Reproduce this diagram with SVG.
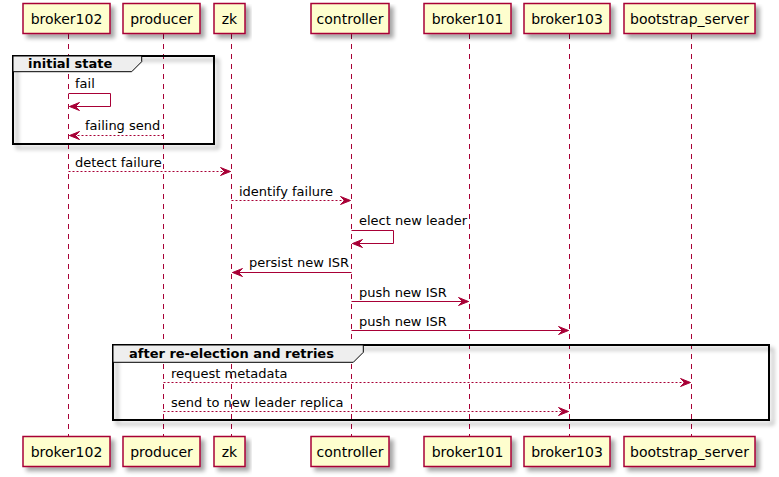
<svg xmlns="http://www.w3.org/2000/svg" width="779" height="477" viewBox="0 0 779 477">
<defs>
<filter id="sh" x="-10%" y="-10%" width="130%" height="140%">
<feGaussianBlur in="SourceAlpha" stdDeviation="2"/>
<feOffset dx="4" dy="4" result="b"/>
<feComponentTransfer><feFuncA type="linear" slope="0.35"/></feComponentTransfer>
<feMerge><feMergeNode/><feMergeNode in="SourceGraphic"/></feMerge>
</filter>
</defs>
<style>
text{font-family:"DejaVu Sans",sans-serif;font-size:13px;fill:#000}
.p text{font-size:14px}
.p rect{fill:#FEFECE;stroke:#A80036;stroke-width:1.5}
.life{stroke:#A80036;stroke-width:1;stroke-dasharray:5,5;fill:none}
.msg{stroke:#A80036;stroke-width:1;fill:none}
.dash{stroke-dasharray:2,2}
.ah{fill:#A80036;stroke:#A80036;stroke-width:1}
.tab{fill:#EEEEEE;stroke:#000;stroke-width:1}
.bold{font-weight:bold}
</style>
<g id="lifelines">
<line class="life" x1="68.5" y1="34" x2="68.5" y2="436"/>
<line class="life" x1="163.5" y1="34" x2="163.5" y2="436"/>
<line class="life" x1="231.5" y1="34" x2="231.5" y2="436"/>
<line class="life" x1="351.5" y1="34" x2="351.5" y2="436"/>
<line class="life" x1="469.5" y1="34" x2="469.5" y2="436"/>
<line class="life" x1="569.5" y1="34" x2="569.5" y2="436"/>
<line class="life" x1="691.5" y1="34" x2="691.5" y2="436"/>
</g>
<g id="group-initial">
<rect x="13" y="56" width="201" height="88" fill="none" stroke="#000" stroke-width="2" filter="url(#sh)"/>
<polygon class="tab" points="13,56 141.7,56 141.7,61.7 131.7,71.7 13,71.7"/>
<text class="bold" x="28" y="68">initial state</text>
</g>
<g id="group-after">
<rect x="113" y="345" width="656" height="75" fill="none" stroke="#000" stroke-width="2" filter="url(#sh)"/>
<polygon class="tab" points="113,345 363.3,345 363.3,352.3 353.3,362.3 113,362.3"/>
<text class="bold" x="129" y="358">after re-election and retries</text>
</g>
<g id="p-broker102" class="p"><rect x="23" y="3.5" width="87" height="30" filter="url(#sh)"/><text x="66.5" y="23.5" text-anchor="middle">broker102</text></g>
<g id="p-producer" class="p"><rect x="123" y="3.5" width="77" height="30" filter="url(#sh)"/><text x="161.5" y="23.5" text-anchor="middle">producer</text></g>
<g id="p-zk" class="p"><rect x="214" y="3.5" width="31" height="30" filter="url(#sh)"/><text x="229.5" y="23.5" text-anchor="middle">zk</text></g>
<g id="p-controller" class="p"><rect x="311" y="3.5" width="78" height="30" filter="url(#sh)"/><text x="350" y="23.5" text-anchor="middle">controller</text></g>
<g id="p-broker101" class="p"><rect x="424" y="3.5" width="87" height="30" filter="url(#sh)"/><text x="467.5" y="23.5" text-anchor="middle">broker101</text></g>
<g id="p-broker103" class="p"><rect x="524" y="3.5" width="86" height="30" filter="url(#sh)"/><text x="567" y="23.5" text-anchor="middle">broker103</text></g>
<g id="p-bootstrap" class="p"><rect x="624" y="3.5" width="131" height="30" filter="url(#sh)"/><text x="689.5" y="23.5" text-anchor="middle">bootstrap_server</text></g>
<g id="p-broker102-b" class="p"><rect x="23" y="436.5" width="87" height="30" filter="url(#sh)"/><text x="66.5" y="456.5" text-anchor="middle">broker102</text></g>
<g id="p-producer-b" class="p"><rect x="123" y="436.5" width="77" height="30" filter="url(#sh)"/><text x="161.5" y="456.5" text-anchor="middle">producer</text></g>
<g id="p-zk-b" class="p"><rect x="214" y="436.5" width="31" height="30" filter="url(#sh)"/><text x="229.5" y="456.5" text-anchor="middle">zk</text></g>
<g id="p-controller-b" class="p"><rect x="311" y="436.5" width="78" height="30" filter="url(#sh)"/><text x="350" y="456.5" text-anchor="middle">controller</text></g>
<g id="p-broker101-b" class="p"><rect x="424" y="436.5" width="87" height="30" filter="url(#sh)"/><text x="467.5" y="456.5" text-anchor="middle">broker101</text></g>
<g id="p-broker103-b" class="p"><rect x="524" y="436.5" width="86" height="30" filter="url(#sh)"/><text x="567" y="456.5" text-anchor="middle">broker103</text></g>
<g id="p-bootstrap-b" class="p"><rect x="624" y="436.5" width="131" height="30" filter="url(#sh)"/><text x="689.5" y="456.5" text-anchor="middle">bootstrap_server</text></g>
<g id="connectors">
<polyline class="msg" points="68.5,93.5 110.5,93.5 110.5,106.5 69.5,106.5"/>
<polygon class="ah" points="79.5,102.5 69.5,106.5 79.5,110.5 75.5,106.5"/>
<text x="75" y="88">fail</text>
<line class="msg dash" x1="163.5" y1="135.5" x2="69.5" y2="135.5"/>
<polygon class="ah" points="79.5,131.5 69.5,135.5 79.5,139.5 75.5,135.5"/>
<text x="85" y="130">failing send</text>
<line class="msg dash" x1="68.5" y1="171.5" x2="230.5" y2="171.5"/>
<polygon class="ah" points="220.5,167.5 230.5,171.5 220.5,175.5 224.5,171.5"/>
<text x="75" y="166.5">detect failure</text>
<line class="msg dash" x1="231.5" y1="200.5" x2="350.5" y2="200.5"/>
<polygon class="ah" points="340.5,196.5 350.5,200.5 340.5,204.5 344.5,200.5"/>
<text x="239" y="195.5">identify failure</text>
<polyline class="msg" points="351.5,230.5 393.5,230.5 393.5,243.5 352.5,243.5"/>
<polygon class="ah" points="362.5,239.5 352.5,243.5 362.5,247.5 358.5,243.5"/>
<text x="359" y="225">elect new leader</text>
<line class="msg" x1="351.5" y1="272.5" x2="232.5" y2="272.5"/>
<polygon class="ah" points="242.5,268.5 232.5,272.5 242.5,276.5 238.5,272.5"/>
<text x="249" y="267">persist new ISR</text>
<line class="msg" x1="351.5" y1="301.5" x2="468.5" y2="301.5"/>
<polygon class="ah" points="458.5,297.5 468.5,301.5 458.5,305.5 462.5,301.5"/>
<text x="359" y="296.5">push new ISR</text>
<line class="msg" x1="351.5" y1="330.5" x2="568.5" y2="330.5"/>
<polygon class="ah" points="558.5,326.5 568.5,330.5 558.5,334.5 562.5,330.5"/>
<text x="359" y="325.5">push new ISR</text>
<line class="msg dash" x1="163.5" y1="382.5" x2="690.5" y2="382.5"/>
<polygon class="ah" points="680.5,378.5 690.5,382.5 680.5,386.5 684.5,382.5"/>
<text x="171" y="377.5">request metadata</text>
<line class="msg dash" x1="163.5" y1="411.5" x2="568.5" y2="411.5"/>
<polygon class="ah" points="558.5,407.5 568.5,411.5 558.5,415.5 562.5,411.5"/>
<text x="171" y="406.5">send to new leader replica</text>
</g>
</svg>
